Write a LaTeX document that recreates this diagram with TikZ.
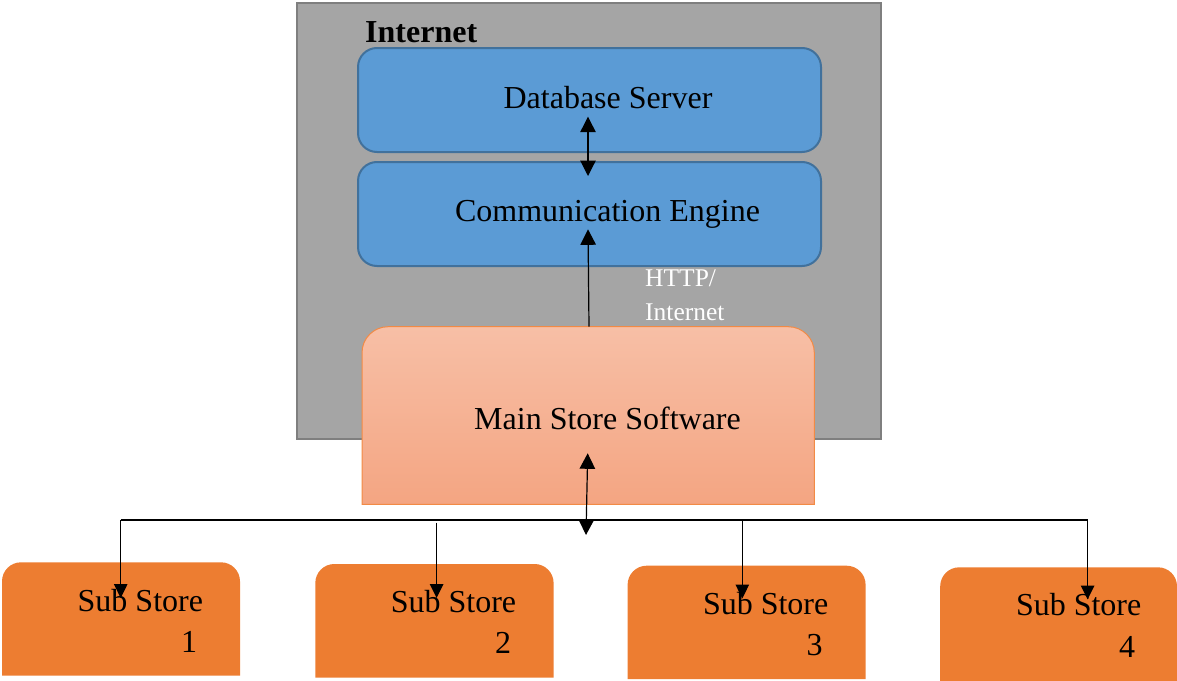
\documentclass[tikz,border=0pt]{standalone}
\usepackage{fontspec}
\setmainfont{Liberation Serif}
\usetikzlibrary{arrows.meta}
\definecolor{inetfill}{HTML}{A5A5A5}
\definecolor{inetdraw}{HTML}{7F7F7F}
\definecolor{bluefill}{HTML}{5B9BD5}
\definecolor{bluedraw}{HTML}{41719C}
\definecolor{mstop}{HTML}{F7BFA6}
\definecolor{msbot}{HTML}{F4A582}
\definecolor{msdraw}{HTML}{F28A45}
\definecolor{subfill}{HTML}{ED7D31}
\begin{document}
\begin{tikzpicture}[x=1pt,y=-1pt,
  >={Triangle[length=15.5pt,width=15.5pt]},
  bigtext/.style={font=\fontsize{32}{38}\selectfont, inner sep=0pt},
  smalltext/.style={font=\fontsize{25.5}{31}\selectfont, text=white, inner sep=0pt},
  bluebox/.style={draw=bluedraw, fill=bluefill, line width=2pt, rounded corners=19pt,
    minimum width=463pt, minimum height=104pt, inner sep=0pt, anchor=north west},
  area/.style={inner sep=0pt, anchor=north west},
  conn/.style={line width=1.2pt, draw=black},
  subconn/.style={conn, -{Triangle[length=14pt,width=13.5pt]}},
  subshape/.style={fill=subfill}
]
\useasboundingbox (0,0) rectangle (1177,680);

% Internet area
\node[draw=inetdraw, fill=inetfill, line width=2pt, minimum width=584pt, minimum height=436pt, area] (inet) at (295.5,2) {};
\node[inner sep=0pt, font=\bfseries\fontsize{32}{38}\selectfont, anchor=base west] (inetlabel) at (365,42.5) {Internet};

% Blue boxes
\node[bluebox] (db) at (357,47) {};
\node[bluebox] (ce) at (357,161) {};
\node[bigtext, anchor=base] (dbtext) at (608,108.3) {Database Server};
\node[bigtext, anchor=base] (cetext) at (607.5,221.7) {Communication Engine};

% Main store
\path[draw=msdraw, line width=1pt, top color=mstop, bottom color=msbot]
  (362,504.3) -- (362,352.7) arc[start angle=180,end angle=270,radius=26]
  -- (788.3,326.7) arc[start angle=270,end angle=360,radius=26]
  -- (814.3,504.3) -- cycle;
\node[area, minimum width=452pt, minimum height=177.6pt] (ms) at (362,326.7) {};
\node[bigtext, anchor=base] (mstext) at (607.5,429) {Main Store Software};

% HTTP label
\node[smalltext, anchor=base west] (http1) at (645,286.7) {HTTP/};
\node[smalltext, anchor=base west] (http2) at (645,320.7) {Internet};

% Sub stores
\path[subshape] (2,675.7) -- (2,581.3) arc[start angle=180,end angle=270,radius=19]
  -- (221,562.3) arc[start angle=270,end angle=360,radius=19] -- (240,675.7) -- cycle;
\path[subshape] (315.3,677.7) -- (315.3,583) arc[start angle=180,end angle=270,radius=19]
  -- (534.6,564) arc[start angle=270,end angle=360,radius=19] -- (553.6,677.7) -- cycle;
\path[subshape] (627.6,679) -- (627.6,584.7) arc[start angle=180,end angle=270,radius=19]
  -- (846.6,565.7) arc[start angle=270,end angle=360,radius=19] -- (865.6,679) -- cycle;
\path[subshape] (940.2,681) -- (940.2,586.3) arc[start angle=180,end angle=270,radius=19]
  -- (1158,567.3) arc[start angle=270,end angle=360,radius=19] -- (1177,681) -- cycle;
\node[area, minimum width=238pt, minimum height=113pt] (s1) at (2,562.3) {};
\node[area, minimum width=238pt, minimum height=113pt] (s2) at (315.3,564) {};
\node[area, minimum width=238pt, minimum height=113pt] (s3) at (627.6,565.7) {};
\node[area, minimum width=237pt, minimum height=113pt] (s4) at (940.2,567.3) {};

\node[bigtext, anchor=base west] (s1a) at (77.5,611.7) {Sub Store};
\node[bigtext, anchor=base] (s1b) at (189,652.3) {1};
\node[bigtext, anchor=base west] (s2a) at (390.6,612.7) {Sub Store};
\node[bigtext, anchor=base] (s2b) at (503,653.3) {2};
\node[bigtext, anchor=base west] (s3a) at (702.8,614.3) {Sub Store};
\node[bigtext, anchor=base] (s3b) at (814.5,655.7) {3};
\node[bigtext, anchor=base west] (s4a) at (1015.8,615.7) {Sub Store};
\node[bigtext, anchor=base] (s4b) at (1127,657.3) {4};

% Connector points
\coordinate (dbin) at (588,116.7);
\coordinate (cein) at (588,176);
\coordinate (ceup) at (588,229.3);
\coordinate (msup) at (589,326.7);
\coordinate (msin) at (587.7,453.3);
\coordinate (bustip) at (586,535);
\coordinate (busL) at (120.7,520);
\coordinate (busR) at (1087.6,520);
\coordinate (bus2) at (436.6,522.5);
\coordinate (bus3) at (742.3,520);
\coordinate (s1in) at (120.7,598);
\coordinate (s2in) at (436.6,598);
\coordinate (s3in) at (742.3,598.5);
\coordinate (s4in) at (1087.6,599.5);

% Connectors
\draw[conn, <->] (dbin) -- (cein);
\draw[conn, ->] (msup) -- (ceup);
\draw[conn, <->] (msin) -- (bustip);
\draw[conn] (busL) -- (busR);
\draw[subconn] (busL) -- (s1in);
\draw[subconn] (bus2) -- (s2in);
\draw[subconn] (bus3) -- (s3in);
\draw[subconn] (busR) -- (s4in);
\end{tikzpicture}
\end{document}
